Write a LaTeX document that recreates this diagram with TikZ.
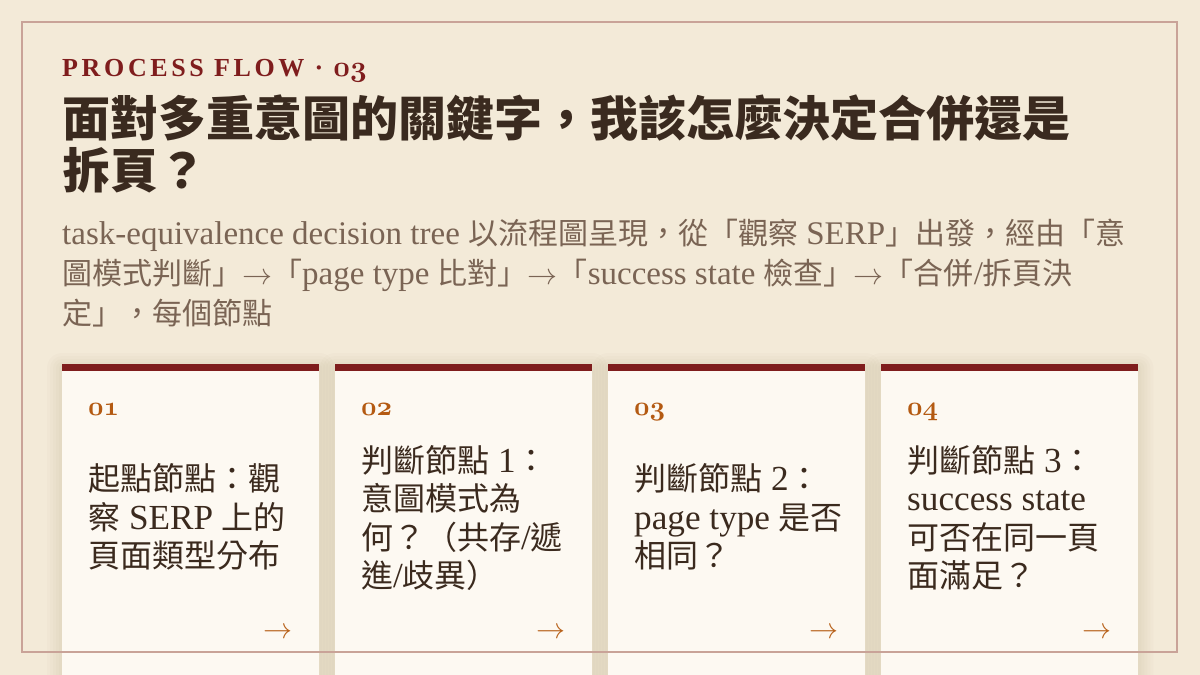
\documentclass[tikz,border=0pt]{standalone}
\usepackage{graphicx}
\usepackage{fontspec}
\setmainfont{Liberation Serif}[Scale=1.1]
\newfontfamily\cjk{Noto Sans CJK TC}
\newfontfamily\kickerfont{Liberation Serif}[LetterSpace=14]
\usetikzlibrary{positioning, backgrounds}

\definecolor{pagebg}{HTML}{F3EAD8}
\definecolor{cardbg}{HTML}{FDF9F2}
\definecolor{barred}{HTML}{7F1D1D}
\definecolor{titlec}{HTML}{3A2A1F}
\definecolor{subc}{HTML}{7A6454}
\definecolor{numc}{HTML}{B45A12}
\definecolor{textc}{HTML}{3B2A1E}
\definecolor{arrowc}{HTML}{B8621B}
\definecolor{framec}{HTML}{C9A398}
\definecolor{shadowc}{HTML}{8A6A45}

\newcommand{\zh}[1]{{\cjk #1}}
% old-style figures and a thin arrow, taken from the CM math fonts at 10pt and scaled
\newcommand{\osf}[2]{\scalebox{#1}{\fontsize{10}{12}\usefont{OML}{cmm}{b}{it}#2}}
\newcommand{\thinarrow}[1]{\scalebox{#1}{\fontsize{10}{12}\selectfont$\rightarrow$}}

\begin{document}
\begin{tikzpicture}[
        x=1pt, y=-1pt,
        card/.style={fill=cardbg, minimum width=257pt, minimum height=311pt, inner sep=0pt, anchor=north west},
        bar/.style={fill=barred, minimum width=257pt, minimum height=7pt, inner sep=0pt, anchor=north west},
        num/.style={text=numc, anchor=base west, inner sep=0pt},
        cardtext/.style={text=textc, font=\fontsize{32}{38.5}\selectfont, align=left, anchor=west, inner sep=0pt},
        nextarrow/.style={text=arrowc, anchor=east, inner sep=0pt}
    ]
        \clip (0,0) rectangle (1200,675);

        % Heading
        \node[anchor=base west, inner sep=0pt, text=barred, font=\kickerfont\fontsize{26}{30}\selectfont\bfseries] (kicker) at (62, 76) {PROCESS FLOW · \osf{2.9}{03}};
        \node[anchor=north west, inner sep=0pt, text=titlec, align=left, font=\cjk\fontsize{48}{52}\selectfont\bfseries] (title) at (62, 95) {面對多重意圖的關鍵字，我該怎麼決定合併還是\\拆頁？};
        \node[anchor=north west, inner sep=0pt, text=subc, align=left, font=\fontsize{30}{40}\selectfont] (subtitle) at (62, 219)
            {task-equivalence decision tree \zh{以流程圖呈現，從「觀察} SERP\zh{」出發，經由「意}\\
             \zh{圖模式判斷」}\thinarrow{3}\zh{「}page type \zh{比對」}\thinarrow{3}\zh{「}success state \zh{檢查」}\thinarrow{3}\zh{「合併}/\zh{拆頁決}\\
             \zh{定」，每個節點}};

        % Cards
        \node[card] (card1) at (62, 364) {};
        \node[card] (card2) at (335, 364) {};
        \node[card] (card3) at (608, 364) {};
        \node[card] (card4) at (881, 364) {};

        \node[bar] (bar1) at (card1.north west) {};
        \node[bar] (bar2) at (card2.north west) {};
        \node[bar] (bar3) at (card3.north west) {};
        \node[bar] (bar4) at (card4.north west) {};

        % Step numbers
        \node[num] (num1) at (88, 415) {\osf{2.7}{01}};
        \node[num] (num2) at (361, 415) {\osf{2.7}{02}};
        \node[num] (num3) at (634, 415) {\osf{2.7}{03}};
        \node[num] (num4) at (907, 415) {\osf{2.7}{04}};

        % Step texts
        \node[cardtext] (text1) at (88, 517) {\zh{起點節點：觀}\\\zh{察} SERP \zh{上的}\\\zh{頁面類型分布}};
        \node[cardtext] (text2) at (361, 518) {\zh{判斷節點} 1\zh{：}\\\zh{意圖模式為}\\\zh{何？（共存}/\zh{遞}\\\zh{進}/\zh{歧異）}};
        \node[cardtext] (text3) at (634, 517) {\zh{判斷節點} 2\zh{：}\\page type \zh{是否}\\\zh{相同？}};
        \node[cardtext] (text4) at (907, 518) {\zh{判斷節點} 3\zh{：}\\success state\\\zh{可否在同一頁}\\\zh{面滿足？}};

        % Arrows
        \node[nextarrow] (next1) at (293, 633) {\thinarrow{2.9}};
        \node[nextarrow] (next2) at (566, 633) {\thinarrow{2.9}};
        \node[nextarrow] (next3) at (839, 633) {\thinarrow{2.9}};
        \node[nextarrow] (next4) at (1112, 633) {\thinarrow{2.9}};

        % Page and shadows
        \begin{scope}[on background layer]
            \fill[pagebg] (0,0) rectangle (1200,675);
            \foreach \c in {card1, card2, card3, card4}
                \foreach \s in {3, 6, 9, 12, 15}
                    \fill[shadowc, opacity=0.025, rounded corners=\s pt]
                        ([shift={(-\s, -\s+4)}]\c.north west) rectangle ([shift={(\s, \s+4)}]\c.south east);
        \end{scope}

        % Frame
        \draw[framec, line width=1.3pt] (22, 22) rectangle (1177, 652);
    \end{tikzpicture}
\end{document}
